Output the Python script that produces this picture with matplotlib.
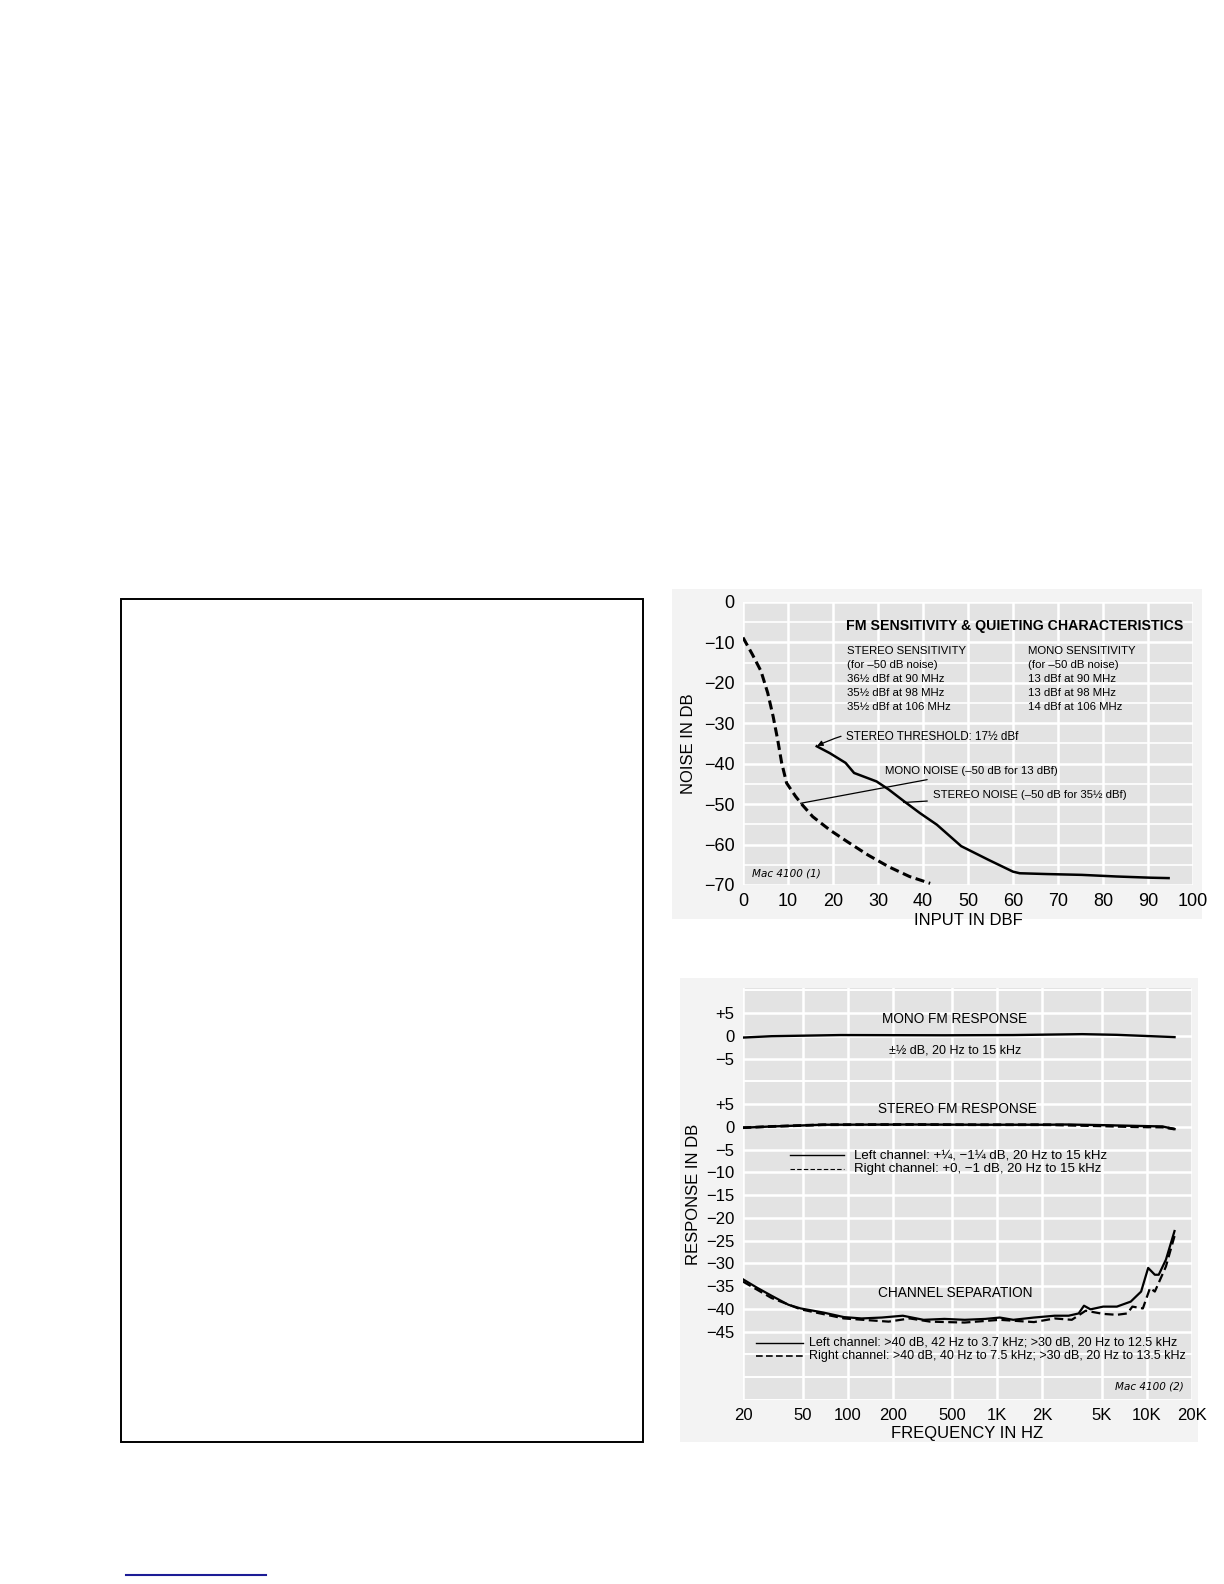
import numpy as np
import matplotlib.pyplot as plt
from matplotlib.patches import Rectangle
from matplotlib.lines import Line2D

plt.rcParams['font.family'] = ['Liberation Sans Narrow', 'Liberation Sans', 'DejaVu Sans']

# --- FM sensitivity & quieting (top chart) ---
mono_noise_x = [0, 2.1, 4, 5.5, 6.7, 7.7, 8.6, 9.7, 11.7, 13.2, 15.5, 19.3, 23.2, 27.8, 32.4, 37, 41.6]
mono_noise_y = [-8.8, -13, -17.1, -22.5, -28.3, -34, -39.8, -44.8, -48.1, -50.2, -53.1, -56.4,
                -59.3, -62.6, -65.5, -67.9, -69.6]
stereo_noise_x = [16.4, 19.3, 22.8, 24.7, 27.8, 29.7, 32.4, 35.8, 39.3, 43.1, 48.5, 54.6, 60,
                  61.5, 67.6, 75.3, 83, 90.6, 94.6]
stereo_noise_y = [-35.7, -37.4, -39.8, -42.3, -43.6, -44.4, -46.4, -49.3, -52.2, -55.1, -60.4,
                  -63.8, -66.7, -67.1, -67.3, -67.5, -67.9, -68.2, -68.3]

# --- FM response & separation (bottom chart) ---
MONO_OFFSET = 20  # mono panel is drawn 20 dB above the stereo panel
mono_f = [20, 31, 89.5, 444, 1280, 3700, 6300, 15300]
mono_db = [-0.4, -0.1, 0.15, 0.1, 0.15, 0.35, 0.2, -0.3]
st_left_f = [20, 31, 68.8, 260, 759, 2200, 2870, 4900, 8300, 12700, 15300]
st_left_db = [-0.2, 0.07, 0.45, 0.5, 0.45, 0.45, 0.5, 0.37, 0.2, 0.07, -0.5]
st_right_f = [20, 31, 68.8, 260, 759, 2200, 2870, 4900, 8300, 12700, 15300]
st_right_db = [-0.2, 0.07, 0.45, 0.5, 0.45, 0.45, 0.37, 0.2, 0.0, -0.07, -0.5]

sep_left_f = [20, 25, 31, 40.3, 48.6, 68.8, 94.5, 124, 169, 234, 322, 444, 606, 834, 1040, 1280,
              1760, 2420, 3000, 3500, 3800, 4200, 5100, 6300, 7800, 9150, 10200, 11300, 12000,
              13400, 15300]
sep_left_db = [-33.5, -35.4, -37.1, -39.1, -39.9, -40.8, -41.8, -42.1, -41.9, -41.5, -42.4, -42.2,
               -42.4, -42.2, -41.9, -42.4, -41.9, -41.5, -41.5, -41.0, -39.3, -40.1, -39.5, -39.5,
               -38.4, -36.2, -31.0, -32.5, -32.5, -29.2, -22.9]
sep_right_f = [20, 31, 48.6, 94.5, 188, 260, 356, 606, 1040, 1760, 2420, 3150, 3900, 5100, 6300,
               7400, 8000, 9400, 10500, 11300, 13400, 15300]
sep_right_db = [-34, -37.6, -40.1, -42.1, -42.8, -42.1, -42.8, -43.0, -42.4, -42.9, -42.1, -42.4,
                -40.4, -41.1, -41.3, -41.0, -39.5, -39.9, -35.4, -36.2, -30.7, -24.0]

freq_ticks = [20, 50, 100, 200, 500, 1000, 2000, 5000, 10000, 20000]
freq_labels = ['20', '50', '100', '200', '500', '1K', '2K', '5K', '10K', '20K']
resp_ticks = [25, 20, 15, 5, 0, -5, -10, -15, -20, -25, -30, -35, -40, -45]
resp_labels = ['+5', '0', '\u22125', '+5', '0', '\u22125', '\u221210', '\u221215', '\u221220',
               '\u221225', '\u221230', '\u221235', '\u221240', '\u221245']

PANEL = '#e3e3e3'
OUTER = '#f3f3f3'

fig = plt.figure(figsize=(12.24, 15.84), dpi=100)

# scanned backgrounds
fig.patches.append(Rectangle((0.5490, 0.4200), 0.4330, 0.2080, transform=fig.transFigure,
                             facecolor=OUTER, edgecolor='none', zorder=-5))
fig.patches.append(Rectangle((0.5556, 0.0896), 0.4232, 0.2929, transform=fig.transFigure,
                             facecolor=OUTER, edgecolor='none', zorder=-5))
# empty framed box on the left
fig.patches.append(Rectangle((0.0989, 0.0896), 0.4265, 0.5322, transform=fig.transFigure,
                             facecolor='none', edgecolor='black', lw=1.4, zorder=1))
fig.lines.append(Line2D([0.1029, 0.2175], [0.0057, 0.0057], transform=fig.transFigure,
                        color='#1c1c96', lw=1.5))

# ---------- top chart ----------
ax1 = fig.add_axes([0.6070, 0.4413, 0.3676, 0.1787])
ax1.set_zorder(2)
ax1.set_facecolor(PANEL)
for s in ax1.spines.values():
    s.set_visible(False)
ax1.set_xlim(0, 100)
ax1.set_ylim(-70, 0)
ax1.set_xticks(np.arange(0, 101, 10))
ax1.set_yticks(np.arange(-70, 1, 10))
ax1.set_yticklabels(['\u221270', '\u221260', '\u221250', '\u221240', '\u221230', '\u221220',
                     '\u221210', '0'])
ax1.set_yticks(np.arange(-70, 1, 5), minor=True)
ax1.tick_params(length=0, labelsize=13, pad=6, which='both')
ax1.grid(True, which='major', color='white', lw=1.8)
ax1.grid(True, which='minor', axis='y', color='white', lw=1.2)
ax1.set_axisbelow(True)

ax1.plot(mono_noise_x, mono_noise_y, color='black', lw=2.2, ls=(0, (3, 1.5)))
ax1.plot(stereo_noise_x, stereo_noise_y, color='black', lw=1.8)

ax1.text(60.5, -5.9, 'FM SENSITIVITY & QUIETING CHARACTERISTICS', ha='center', va='center',
         fontsize=10.2, fontweight='bold')
stereo_block = ['STEREO SENSITIVITY', '(for \u201350 dB noise)', '36\u00bd dBf at 90 MHz',
                '35\u00bd dBf at 98 MHz', '35\u00bd dBf at 106 MHz']
mono_block = ['MONO SENSITIVITY', '(for \u201350 dB noise)', '13 dBf at 90 MHz',
              '13 dBf at 98 MHz', '14 dBf at 106 MHz']
for i, (a, b) in enumerate(zip(stereo_block, mono_block)):
    ax1.text(23.2, -12.1 - 3.45 * i, a, ha='left', va='center', fontsize=8.2)
    ax1.text(63.3, -12.1 - 3.45 * i, b, ha='left', va='center', fontsize=8.2)

ax1.annotate('STEREO THRESHOLD: 17\u00bd dBf', xy=(16.5, -35.6), xytext=(23, -33.4),
             ha='left', va='center', fontsize=8.4,
             arrowprops=dict(arrowstyle='-|>', lw=0.9, color='black', mutation_scale=8,
                             shrinkA=2, shrinkB=0, connectionstyle='arc3,rad=0.2'))
ax1.annotate('MONO NOISE (\u201350 dB for 13 dBf)', xy=(12.8, -49.8), xytext=(31.6, -41.9),
             ha='left', va='center', fontsize=8.2,
             arrowprops=dict(arrowstyle='-', lw=0.9, color='black', shrinkA=2, shrinkB=0))
ax1.annotate('STEREO NOISE (\u201350 dB for 35\u00bd dBf)', xy=(35.7, -49.6), xytext=(42.2, -47.7),
             ha='left', va='center', fontsize=8.2,
             arrowprops=dict(arrowstyle='-', lw=0.9, color='black', shrinkA=2, shrinkB=0))
ax1.text(2.1, -67.1, 'Mac 4100 (1)', ha='left', va='center', fontsize=7.5, style='italic',
         family='DejaVu Sans')
ax1.set_xlabel('INPUT IN DBF', fontsize=12, labelpad=2)
ax1.set_ylabel('NOISE IN DB', fontsize=12, labelpad=6)

# ---------- bottom chart ----------
ax2 = fig.add_axes([0.6070, 0.1162, 0.3668, 0.2601])
ax2.set_zorder(2)
ax2.set_facecolor(PANEL)
for s in ax2.spines.values():
    s.set_visible(False)
ax2.set_xscale('log')
ax2.set_xlim(20, 20000)
ax2.set_ylim(-60, 30.5)
ax2.set_xticks(freq_ticks)
ax2.set_xticklabels(freq_labels)
ax2.xaxis.set_minor_locator(plt.NullLocator())
ax2.set_yticks(resp_ticks)
ax2.set_yticklabels(resp_labels)
ax2.set_yticks(np.arange(-60, 31, 5), minor=True)
ax2.tick_params(length=0, labelsize=12, pad=6, which='both')
ax2.grid(True, which='major', color='white', lw=1.8)
ax2.grid(True, which='minor', axis='y', color='white', lw=1.4)
ax2.set_axisbelow(True)

ax2.plot(mono_f, np.array(mono_db) + MONO_OFFSET, color='black', lw=1.7)
ax2.plot(st_right_f, st_right_db, color='black', lw=2.0, ls=(0, (3, 1.5)))
ax2.plot(st_left_f, st_left_db, color='black', lw=1.7)
ax2.plot(sep_right_f, sep_right_db, color='black', lw=1.6, ls=(0, (4, 2)))
ax2.plot(sep_left_f, sep_left_db, color='black', lw=1.6)

ax2.text(521, 23.75, 'MONO FM RESPONSE', ha='center', va='center', fontsize=9.8)
ax2.text(521, 16.8, '\u00b1\u00bd dB, 20 Hz to 15 kHz', ha='center', va='center', fontsize=9)
ax2.text(546, 3.9, 'STEREO FM RESPONSE', ha='center', va='center', fontsize=9.8)
ax2.plot([41.5, 94.7], [-6.25, -6.25], color='black', lw=1.0)
ax2.plot([41.5, 94.7], [-9.2, -9.2], color='black', lw=0.8, ls=(0, (4, 2)))
ax2.text(109.6, -6.25, 'Left channel: +\u00bc, \u22121\u00bc dB, 20 Hz to 15 kHz', ha='left',
         va='center', fontsize=9.5)
ax2.text(109.6, -9.2, 'Right channel: +0, \u22121 dB, 20 Hz to 15 kHz', ha='left',
         va='center', fontsize=9.5)
ax2.text(521, -36.5, 'CHANNEL SEPARATION', ha='center', va='center', fontsize=9.8)
ax2.plot([24.4, 50], [-47.4, -47.4], color='black', lw=1.0)
ax2.plot([24.4, 50], [-50.4, -50.4], color='black', lw=1.2, ls=(0, (4, 2)))
ax2.text(55.2, -47.4, 'Left channel: >40 dB, 42 Hz to 3.7 kHz; >30 dB, 20 Hz to 12.5 kHz',
         ha='left', va='center', fontsize=9)
ax2.text(55.2, -50.4, 'Right channel: >40 dB, 40 Hz to 7.5 kHz; >30 dB, 20 Hz to 13.5 kHz',
         ha='left', va='center', fontsize=9)
ax2.text(17700, -57, 'Mac 4100 (2)', ha='right', va='center', fontsize=7.5, style='italic',
         family='DejaVu Sans')
ax2.set_xlabel('FREQUENCY IN HZ', fontsize=12, labelpad=2)
ax2.set_ylabel('RESPONSE IN DB', fontsize=12, labelpad=4)

fig.savefig('out.png', dpi=100)
